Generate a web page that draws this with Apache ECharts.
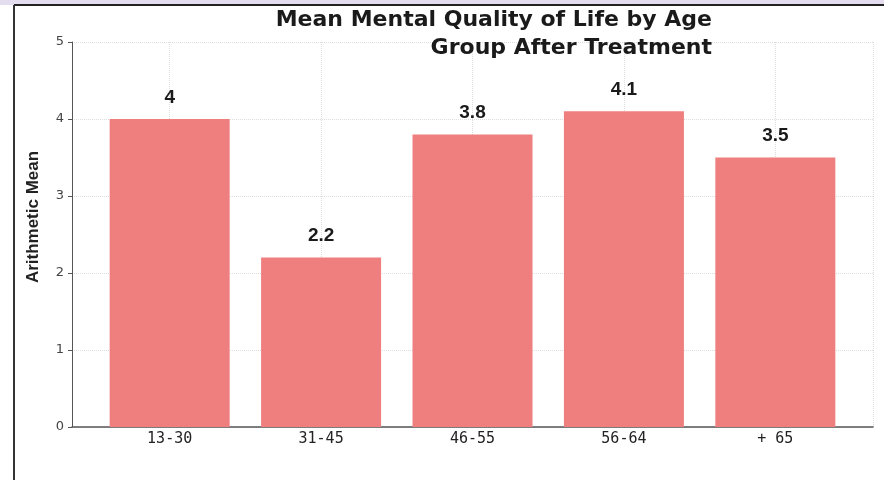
<!DOCTYPE html>
<html>
<head>
<meta charset="utf-8">
<script src="https://cdn.jsdelivr.net/npm/echarts@6/dist/echarts.min.js"></script>
<style>
html,body{margin:0;padding:0;background:#fff;}
#chart{width:884px;height:480px;}
</style>
</head>
<body>
<div id="chart"></div>
<script>
var categories = ['13-30', '31-45', '46-55', '56-64', '+ 65'];
var values = [4, 2.2, 3.8, 4.1, 3.5];
var yTicks = [0, 1, 2, 3, 4, 5];
var titleLines = ['Mean Mental Quality of Life by Age', 'Group After Treatment'];
var yAxisTitle = 'Arithmetic Mean';

var chart = echarts.init(document.getElementById('chart'));
var data = values.map(function (v, i) { return [i, v]; });
var titleFont = 'bold 22px "DejaVu Sans", sans-serif';

chart.setOption({
  animation: false,
  backgroundColor: '#fff',
  graphic: [
    { type: 'rect', shape: { x: 0, y: 0, width: 884, height: 5 }, style: { fill: '#e4dcef' } },
    { type: 'line', shape: { x1: 14, y1: 5, x2: 884, y2: 5 }, style: { stroke: '#222', lineWidth: 2 } },
    { type: 'line', shape: { x1: 14, y1: 5, x2: 14, y2: 480 }, style: { stroke: '#333', lineWidth: 2 } },
    { type: 'text', z: 10, style: { x: 712, y: 9, text: titleLines[0], align: 'right', verticalAlign: 'top', font: titleFont, fill: '#1a1a1a' } },
    { type: 'text', z: 10, style: { x: 712, y: 37, text: titleLines[1], align: 'right', verticalAlign: 'top', font: titleFont, fill: '#1a1a1a' } },
    { type: 'text', z: 10, x: 33, y: 217, rotation: Math.PI / 2, style: { x: 0, y: 0, text: yAxisTitle, align: 'center', verticalAlign: 'middle', font: 'bold 17px "Liberation Sans", Arial, sans-serif', fill: '#222' } }
  ],
  grid: { left: 72, right: 11, top: 42, bottom: 53 },
  xAxis: {
    type: 'value',
    min: -0.645,
    max: 4.645,
    axisLine: { show: true, lineStyle: { color: '#555', width: 1.5 } },
    axisTick: { show: false },
    axisLabel: {
      color: '#222',
      fontFamily: '"DejaVu Sans Mono", monospace',
      fontSize: 15,
      margin: 5,
      showMinLabel: false,
      showMaxLabel: false,
      formatter: function (v) {
        return Number.isInteger(v) && categories[v] !== undefined ? categories[v] : '';
      }
    },
    splitLine: { show: true, lineStyle: { color: '#ddd', type: 'dotted', width: 1 } }
  },
  yAxis: {
    type: 'value',
    min: yTicks[0],
    max: yTicks[yTicks.length - 1],
    interval: 1,
    axisLine: { show: true, onZero: false, lineStyle: { color: '#555', width: 1 } },
    axisTick: { show: true, length: 4, lineStyle: { color: '#555' } },
    axisLabel: { color: '#444', fontSize: 13, fontFamily: '"DejaVu Sans", sans-serif', margin: 8 },
    splitLine: { show: true, lineStyle: { color: '#ddd', type: 'dotted', width: 1 } }
  },
  series: [{
    type: 'bar',
    data: data,
    barWidth: 120,
    itemStyle: { color: '#ef7f7f' },
    label: {
      show: true,
      position: 'top',
      distance: 12,
      color: '#1a1a1a',
      fontSize: 19,
      fontWeight: 'bold',
      fontFamily: '"Liberation Sans", Arial, sans-serif',
      formatter: function (p) { return String(p.value[1]); }
    }
  }]
});
</script>
</body>
</html>
